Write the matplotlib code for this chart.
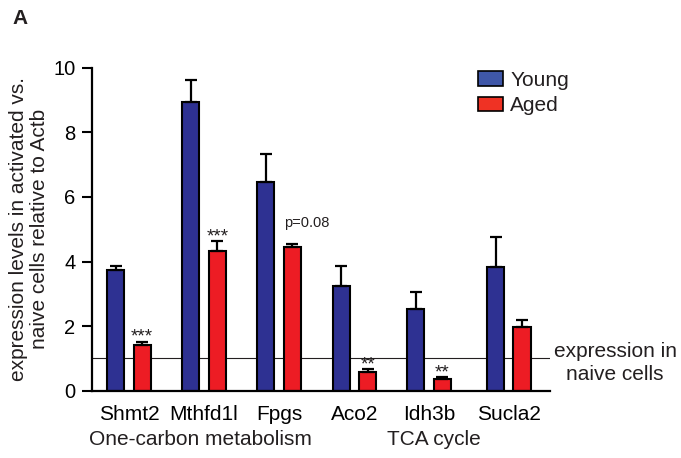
import numpy as np
import matplotlib
matplotlib.use("Agg")
import matplotlib.pyplot as plt
from matplotlib.patches import Patch

plt.rcParams["font.family"] = ["Liberation Sans", "DejaVu Sans"]
plt.rcParams["text.color"] = "#231F20"

genes = ["Shmt2", "Mthfd1l", "Fpgs", "Aco2", "Idh3b", "Sucla2"]
young = [3.74, 8.93, 6.45, 3.25, 2.52, 3.83]
young_err = [0.11, 0.70, 0.89, 0.60, 0.53, 0.94]
aged = [1.42, 4.33, 4.45, 0.59, 0.35, 1.97]
aged_err = [0.10, 0.29, 0.10, 0.07, 0.07, 0.22]
marks = ["***", "***", "p=0.08", "**", "**", ""]
groups = ["One-carbon metabolism", "TCA cycle"]

blue = "#2E3192"
red = "#ED1C24"
ink = "#231F20"

fig = plt.figure(figsize=(6.81, 4.58), dpi=100)
ax = fig.add_axes([0.1355, 0.1469, 0.8076 - 0.1355, 0.8522 - 0.1469])

x = np.array([0, 1, 2, 3.005, 4, 5.063])
off = 0.353
w = 0.23

ax.axhline(1, color=ink, lw=0.8, zorder=0)
err_kw = dict(ecolor="black", elinewidth=1.6, capsize=4.3, capthick=1.6)
ax.bar(x, young, w, color=blue, edgecolor="black", linewidth=1.5,
       yerr=[np.zeros(6), young_err], error_kw=err_kw, zorder=2)
ax.bar(x + off, aged, w, color=red, edgecolor="black", linewidth=1.5,
       yerr=[np.zeros(6), aged_err], error_kw=err_kw, zorder=2)

# significance marks over the aged bars
for xi, top, m in zip(x + off, np.add(aged, aged_err), marks):
    if not m:
        continue
    if m.startswith("p"):
        ax.text(xi - w / 2, top + 0.52, m, fontsize=10.5, ha="left", va="baseline")
    else:
        ax.text(xi, top - 0.01, m, fontsize=13.5, ha="center", va="baseline")

ax.set_xlim(-0.313, 5.789)
ax.set_ylim(0, 10)
ax.set_yticks([0, 2, 4, 6, 8, 10])
ax.tick_params(axis="y", length=7.4, width=1.5, pad=4.8, labelsize=14.5)
ax.set_xticks(x + off / 2, genes)
ax.tick_params(axis="x", length=0, pad=10.5, labelsize=15)
for s in ["top", "right"]:
    ax.spines[s].set_visible(False)
for s in ["left", "bottom"]:
    ax.spines[s].set_linewidth(1.6)

ax.text(1.127, -1.684, groups[0], fontsize=15, ha="center", va="baseline", clip_on=False)
ax.text(4.236, -1.684, groups[1], fontsize=15, ha="center", va="baseline", clip_on=False)

fig.text(29 / 681, 1 - 229 / 458,
         "expression levels in activated vs.\nnaive cells relative to Actb",
         rotation=90, fontsize=15, ha="center", va="center", linespacing=1.1)
fig.text(615 / 681, 1 - 363 / 458, "expression in\nnaive cells",
         fontsize=15, ha="center", va="center", linespacing=1.3)
fig.text(12 / 681, 1 - 23.5 / 458, "A", fontsize=15, fontweight="bold", va="baseline")

handles = [Patch(facecolor="#3F57A8", edgecolor="black", linewidth=1.2, label="Young"),
           Patch(facecolor="#EF3224", edgecolor="black", linewidth=1.2, label="Aged")]
ax.legend(handles=handles, loc="upper left", bbox_to_anchor=(478 / 681, 1 - 71 / 458),
          bbox_transform=fig.transFigure, frameon=False, fontsize=15,
          handlelength=1.2, handleheight=0.72, handletextpad=0.35,
          labelspacing=0.3, borderpad=0, borderaxespad=0)

fig.savefig("out.png", dpi=100)
